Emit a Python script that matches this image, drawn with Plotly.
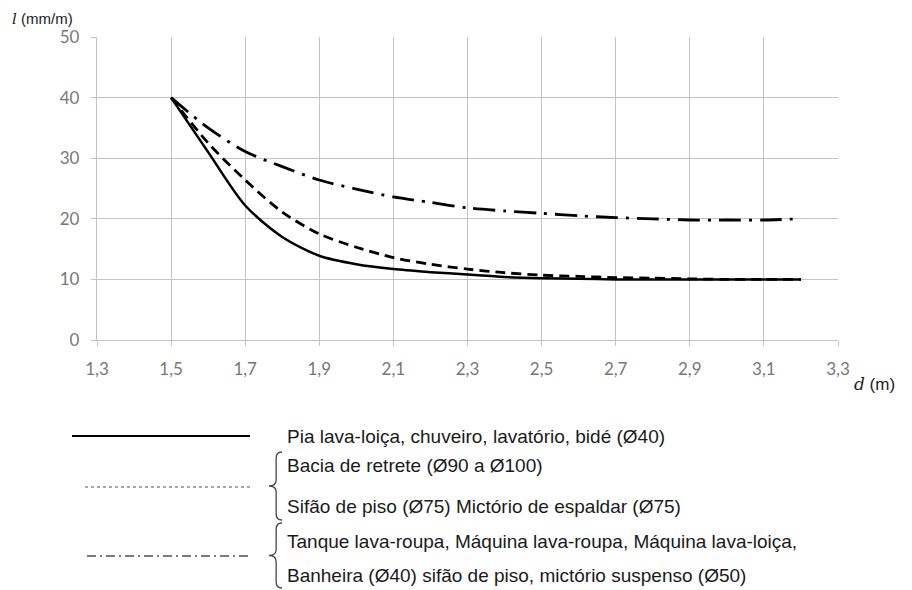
import plotly.graph_objects as go

# ---- data ----
d_values = [1.5, 1.6, 1.7, 1.8, 1.9, 2.0, 2.1, 2.2, 2.3, 2.4, 2.5, 2.6, 2.7, 2.8, 2.9, 3.0, 3.1, 3.2]
solid_i = [40, 31.0, 22.2, 17.0, 13.9, 12.5, 11.7, 11.2, 10.8, 10.4, 10.2, 10.1, 10.0, 10.0, 10.0, 10.0, 10.0, 10.0]
dashed_i = [40, 32.5, 26.4, 21.1, 17.5, 15.3, 13.6, 12.5, 11.7, 11.1, 10.7, 10.5, 10.3, 10.2, 10.1, 10.0, 10.0, 10.0]
dashdot_i = [40, 35.0, 31.1, 28.6, 26.4, 24.9, 23.6, 22.7, 21.8, 21.3, 20.9, 20.5, 20.2, 20.0, 19.8, 19.8, 19.8, 20.0]

x_ticks = [1.3, 1.5, 1.7, 1.9, 2.1, 2.3, 2.5, 2.7, 2.9, 3.1, 3.3]
y_ticks = [0, 10, 20, 30, 40, 50]

legend_lines = [
    "Pia lava-loiça, chuveiro, lavatório, bidé (Ø40)",
    "Bacia de retrete (Ø90 a Ø100)",
    "Sifão de piso (Ø75) Mictório de espaldar (Ø75)",
    "Tanque lava-roupa, Máquina lava-roupa, Máquina lava-loiça,",
    "Banheira (Ø40) sifão de piso, mictório suspenso (Ø50)",
]

# page body has an 8px margin; screen coordinates below are converted
OFF = 8
W, H = 912 - OFF, 590 - OFF
ML, MT = 97 - OFF, 37 - OFF
MR = W - (838 - OFF)
MB = H - (340 - OFF)
PW = W - ML - MR
PH = H - MT - MB


def px(x):
    return (x - OFF - ML) / PW


def py(y):
    return (H - MB - (y - OFF)) / PH


fig = go.Figure()

fig.add_trace(go.Scatter(x=d_values, y=dashdot_i, mode="lines", line=dict(color="black", width=2.8, dash="22px,8px,3px,8px", shape="spline", smoothing=0.8), showlegend=False))
fig.add_trace(go.Scatter(x=d_values, y=dashed_i, mode="lines", line=dict(color="black", width=2.8, dash="10px,6px", shape="spline", smoothing=0.8), showlegend=False))
fig.add_trace(go.Scatter(x=d_values, y=solid_i, mode="lines", line=dict(color="black", width=2.5, shape="spline", smoothing=0.8), showlegend=False))

grid = "#c4c4c4"
tickfont = dict(family="Lato, Open Sans, sans-serif", size=17, color="#777777")

fig.update_xaxes(range=[1.3, 3.3], tickvals=x_ticks, tickformat=".1f", showgrid=True, gridcolor=grid, gridwidth=1.3,
                 showline=True, linecolor=grid, linewidth=1.3, ticks="outside", ticklen=5, tickcolor=grid, tickwidth=1.3,
                 tickfont=tickfont, zeroline=False, mirror=False, ticklabelstandoff=8)
fig.update_yaxes(range=[0, 50], tickvals=y_ticks, showgrid=True, gridcolor=grid, gridwidth=1.3,
                 showline=True, linecolor=grid, linewidth=1.3, ticks="outside", ticklen=5, tickcolor=grid, tickwidth=1.3,
                 tickfont=tickfont, zeroline=False, ticklabelstandoff=8)

shapes = []
# legend sample lines
shapes.append(dict(type="line", xref="paper", yref="paper", x0=px(72), x1=px(250), y0=py(436), y1=py(436), line=dict(color="black", width=2)))
shapes.append(dict(type="line", xref="paper", yref="paper", x0=px(85), x1=px(252), y0=py(487), y1=py(487), line=dict(color="#8a8a8a", width=1.6, dash="3px,3px")))
shapes.append(dict(type="line", xref="paper", yref="paper", x0=px(87), x1=px(249), y0=py(556), y1=py(556), line=dict(color="#7a7a7a", width=1.8, dash="9px,4px,2px,4px")))


def brace(xr, yt, yb, w):
    xm = xr - w * 0.45
    xl = xr - w
    ymid = (yt + yb) / 2
    r = 6
    pts = [
        f"M {px(xr)},{py(yt)}",
        f"Q {px(xm)},{py(yt)} {px(xm)},{py(yt + r)}",
        f"L {px(xm)},{py(ymid - r)}",
        f"Q {px(xm)},{py(ymid)} {px(xl)},{py(ymid)}",
        f"Q {px(xm)},{py(ymid)} {px(xm)},{py(ymid + r)}",
        f"L {px(xm)},{py(yb - r)}",
        f"Q {px(xm)},{py(yb)} {px(xr)},{py(yb)}",
    ]
    return " ".join(pts)


shapes.append(dict(type="path", xref="paper", yref="paper", path=brace(282, 452, 520, 13), line=dict(color="#444444", width=1.3)))
shapes.append(dict(type="path", xref="paper", yref="paper", path=brace(282, 523, 588, 13), line=dict(color="#444444", width=1.3)))

legfont = dict(family="Liberation Sans, Arial, sans-serif", size=19, color="#1a1a1a")
ys = [436, 465, 506, 541, 575]
annotations = []
for txt, yy in zip(legend_lines, ys):
    annotations.append(dict(text=txt, xref="paper", yref="paper", x=px(285), y=py(yy), xanchor="left", yanchor="middle", showarrow=False, font=legfont))

titlefont = dict(family="Liberation Sans, Arial, sans-serif", size=15, color="#222222")
annotations.append(dict(text="<span style='font-family:DejaVu Serif;font-style:italic'>l</span> (mm/m)", xref="paper", yref="paper",
                        x=px(10), y=py(19), xanchor="left", yanchor="middle", showarrow=False, font=titlefont))
annotations.append(dict(text="<span style='font-family:DejaVu Serif;font-style:italic'>d</span> (m)", xref="paper", yref="paper",
                        x=px(852), y=py(384), xanchor="left", yanchor="middle", showarrow=False, font=dict(titlefont, size=17)))

fig.update_layout(width=W, height=H, margin=dict(l=ML, r=MR, t=MT, b=MB), plot_bgcolor="white", paper_bgcolor="white",
                  separators=",.", shapes=shapes, annotations=annotations, showlegend=False)

fig.write_html("out.html")
